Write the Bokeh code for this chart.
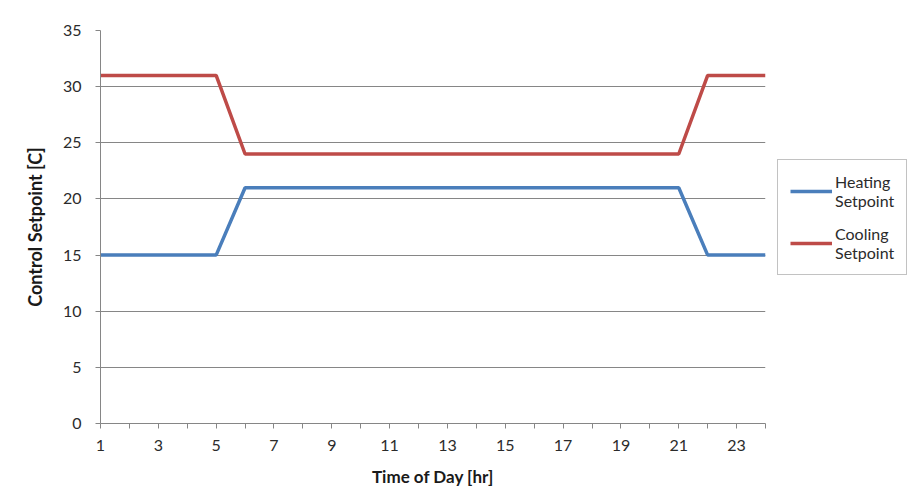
from bokeh.plotting import figure
from bokeh.models import Range1d, FixedTicker, Legend, LegendItem
from bokeh.embed import file_html
from bokeh.resources import INLINE

hours = list(range(1, 25))
heating = [15, 15, 15, 15, 15] + [21] * 16 + [15, 15, 15]
cooling = [31, 31, 31, 31, 31] + [24] * 16 + [31, 31, 31]
x_ticks = list(range(1, 25, 2))
x_minor = list(range(2, 25, 2))
y_ticks = list(range(0, 36, 5))

FONT = "Lato"
GRAY = "#868686"

p = figure(frame_width=665, frame_height=393, output_backend="svg", toolbar_location=None,
           x_range=Range1d(1, 24), y_range=Range1d(0, 35))
p.min_border_left = 100
p.min_border_top = 30
p.min_border_right = 150
p.min_border_bottom = 66
p.outline_line_color = None
p.background_fill_color = "white"
p.border_fill_color = "white"

r1 = p.line(hours, heating, line_color="#4A7EBB", line_width=3.5)
r2 = p.line(hours, cooling, line_color="#BE4B48", line_width=3.5)

p.xaxis.ticker = FixedTicker(ticks=x_ticks, minor_ticks=x_minor)
p.yaxis.ticker = FixedTicker(ticks=y_ticks)
for ax in (p.xaxis[0], p.yaxis[0]):
    ax.axis_line_color = GRAY
    ax.major_tick_line_color = GRAY
    ax.minor_tick_line_color = GRAY
    ax.major_tick_in = 0
    ax.major_tick_out = 5
    ax.minor_tick_in = 0
    ax.minor_tick_out = 5
    ax.major_label_text_font = FONT
    ax.major_label_text_font_size = "16px"
    ax.major_label_text_color = "#2b2b2b"
    ax.axis_label_text_font = FONT
    ax.axis_label_text_font_style = "bold"
    ax.axis_label_text_font_size = "17px"
    ax.axis_label_text_color = "#1a1a1a"
p.yaxis.minor_tick_line_color = None
p.yaxis.axis_label_text_font_size = "18px"
p.xaxis.axis_label = "Time of Day [hr]"
p.yaxis.axis_label = "Control Setpoint [C]"
p.xaxis.major_label_standoff = 11
p.yaxis.major_label_standoff = 14
p.xaxis.axis_label_standoff = 12
p.yaxis.axis_label_standoff = 14

p.xgrid.grid_line_color = None
p.ygrid.ticker = FixedTicker(ticks=y_ticks[1:])
p.ygrid.grid_line_color = GRAY
p.ygrid.grid_line_width = 1

legend = Legend(items=[LegendItem(label="Heating\nSetpoint", renderers=[r1]),
                       LegendItem(label="Cooling\nSetpoint", renderers=[r2])],
                location=(12, 148))
legend.border_line_color = GRAY
legend.border_line_width = 1
legend.label_text_font = FONT
legend.label_text_font_size = "16px"
legend.label_text_line_height = 1.45
legend.label_text_color = "#2b2b2b"
legend.glyph_width = 42
legend.label_standoff = 3
legend.spacing = 14
legend.padding = 12
legend.margin = 0
p.add_layout(legend, "right")

open("out.html", "w").write(file_html(p, INLINE))
